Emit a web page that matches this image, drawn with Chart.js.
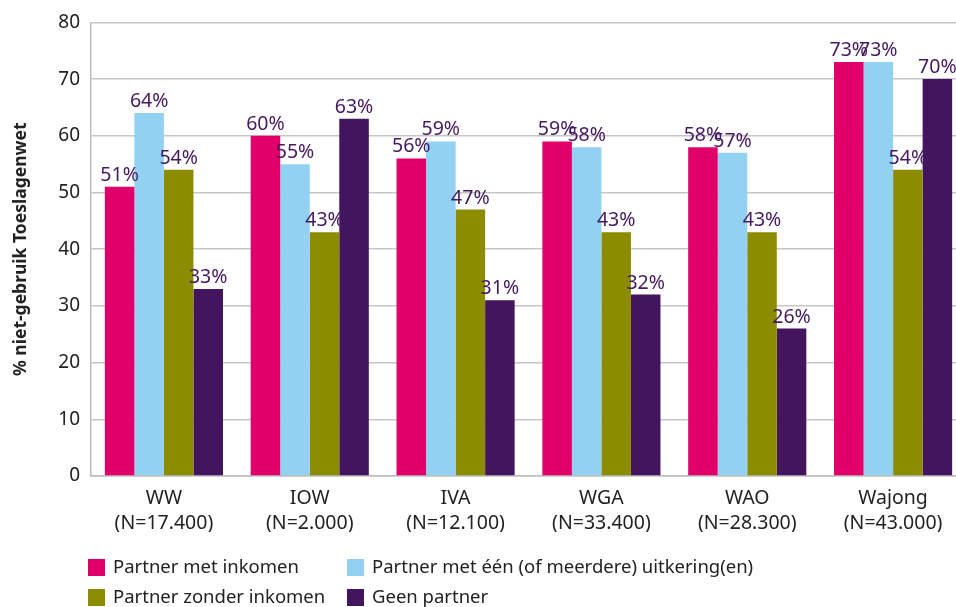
<!DOCTYPE html>
<html>
<head>
<meta charset="utf-8">
<script src="https://cdn.jsdelivr.net/npm/chart.js@4.4.1/dist/chart.umd.min.js"></script>
<style>
html,body{margin:0;padding:0;background:#fff;overflow:hidden;}
#wrap{width:966px;height:607px;}
</style>
</head>
<body>
<div id="wrap"><canvas id="c" width="966" height="607"></canvas></div>
<script>
const categories = [["WW","(N=17.400)"],["IOW","(N=2.000)"],["IVA","(N=12.100)"],["WGA","(N=33.400)"],["WAO","(N=28.300)"],["Wajong","(N=43.000)"]];
const seriesNames = ["Partner met inkomen","Partner met één (of meerdere) uitkering(en)","Partner zonder inkomen","Geen partner"];
const partnerMetInkomen = [51, 60, 56, 59, 58, 73];
const partnerMetUitkering = [64, 55, 59, 58, 57, 73];
const partnerZonderInkomen = [54, 43, 47, 43, 43, 54];
const geenPartner = [33, 63, 31, 32, 26, 70];
const yTicks = [0,10,20,30,40,50,60,70,80];
const colors = ["#e1006a","#93d1f2","#8c8c00","#42155e"];

const FONT = "'Noto Sans','Open Sans',sans-serif";
const TEXT = "#222222";
const LABEL = "#45195f";

const valueLabels = {
  id: 'valueLabels',
  afterDatasetsDraw(chart) {
    const ctx = chart.ctx;
    ctx.save();
    ctx.font = "19.5px " + FONT;
    ctx.fillStyle = LABEL;
    ctx.textAlign = 'center';
    ctx.textBaseline = 'alphabetic';
    chart.data.datasets.forEach((ds, i) => {
      chart.getDatasetMeta(i).data.forEach((bar, j) => {
        ctx.fillText(ds.data[j] + '%', bar.x, bar.y - 6);
      });
    });
    ctx.restore();
  }
};

const gridLegend = {
  id: 'gridLegend',
  afterDraw(chart) {
    const ctx = chart.ctx;
    ctx.save();
    ctx.font = "18.5px " + FONT;
    ctx.textBaseline = 'middle';
    ctx.textAlign = 'left';
    const cols = [88, 347];
    const rows = [567.5, 597.5];
    chart.data.datasets.forEach((ds, i) => {
      const x = cols[i % 2], y = rows[Math.floor(i / 2)];
      ctx.fillStyle = ds.backgroundColor;
      ctx.fillRect(x, y - 8.5, 17, 17);
      ctx.fillStyle = TEXT;
      ctx.fillText(ds.label, x + 25, y);
    });
    ctx.restore();
  }
};

const seriesData = [partnerMetInkomen, partnerMetUitkering, partnerZonderInkomen, geenPartner];

new Chart(document.getElementById('c'), {
  type: 'bar',
  data: {
    labels: categories,
    datasets: seriesNames.map((n, i) => ({
      label: n,
      data: seriesData[i],
      backgroundColor: colors[i],
      borderWidth: 0,
      barPercentage: 1,
      categoryPercentage: 0.81
    }))
  },
  options: {
    responsive: false,
    devicePixelRatio: 1,
    animation: false,
    layout: { padding: { top: 20, bottom: 75, left: 0, right: 0 } },
    plugins: { legend: { display: false }, tooltip: { enabled: false } },
    scales: {
      x: {
        grid: { display: false, drawTicks: false },
        border: { color: '#bdbdbd', width: 1.5 },
        ticks: { color: TEXT, font: { family: FONT, size: 19.5, lineHeight: 1.28 }, padding: 10, maxRotation: 0, autoSkip: false },
        afterFit(s) { s.height = 56; }
      },
      y: {
        min: 0, max: 80,
        afterBuildTicks(s) { s.ticks = yTicks.map(v => ({ value: v })); },
        grid: { color: '#c6c6c6', lineWidth: 1.5, drawTicks: false },
        border: { color: '#bdbdbd', width: 1.5 },
        ticks: { color: TEXT, font: { family: FONT, size: 19 }, padding: 11 },
        title: { display: true, text: '% niet-gebruik Toeslagenwet', color: TEXT, font: { family: FONT, size: 17.5, weight: 'bold' }, padding: { top: 11, bottom: 0 } },
        afterFit(s) { s.width = 91; }
      }
    }
  },
  plugins: [valueLabels, gridLegend]
});
</script>
</body>
</html>
